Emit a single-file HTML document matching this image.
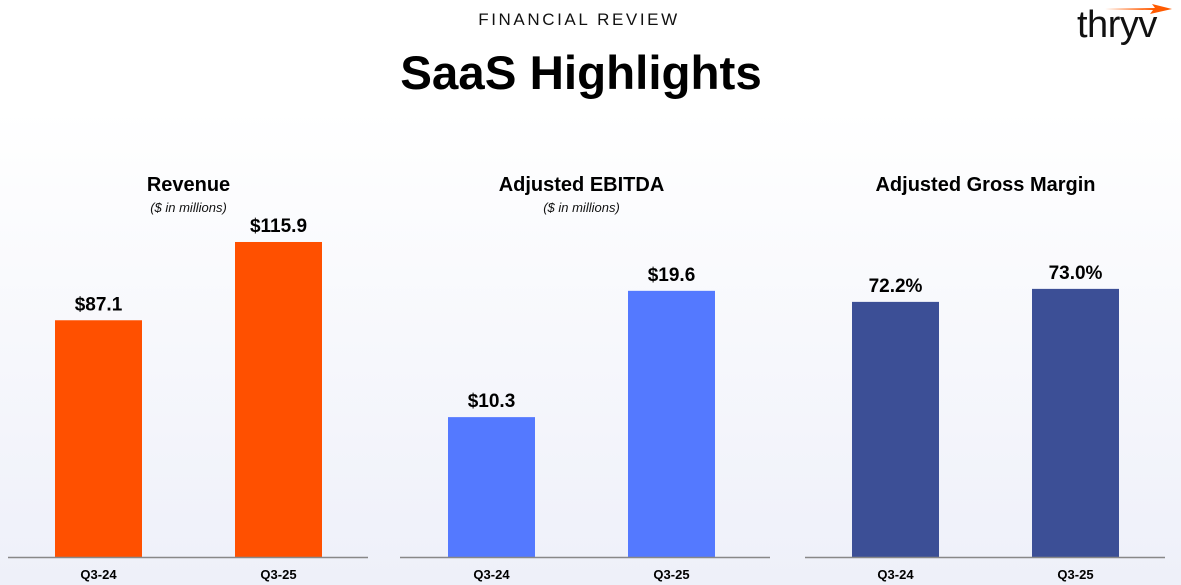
<!DOCTYPE html>
<html><head><meta charset="utf-8"><style>
body{margin:0;width:1181px;height:585px;overflow:hidden;font-family:"Liberation Sans",sans-serif;}
#bg{position:absolute;left:0;top:0;width:1181px;height:585px;background:linear-gradient(#ffffff 0px,#ffffff 110px,#eef0f9 585px);}
</style></head><body>
<div id="bg"></div>
<svg id="c" width="1181" height="585" style="position:absolute;left:0;top:0">
<text x="579" y="25" text-anchor="middle" font-size="17" letter-spacing="2.6" fill="#111">FINANCIAL REVIEW</text>
<text x="581" y="89" text-anchor="middle" font-size="47.5" font-weight="bold" fill="#000">SaaS Highlights</text>
<g>
<text x="1077" y="37" font-size="38" fill="#111" letter-spacing="-0.5">thryv</text>
<polygon points="1105,9 1155,8 1152,4 1172,9 1150,14 1153,10" fill="#ff5a00"/>
</g>
</svg>
<script>
const cats=["Q3-24","Q3-25"];
const revenue=[87.1,115.9];
const ebitda=[10.3,19.6];
const margin=[72.2,73.0];
const revLabels=["$87.1","$115.9"];
const ebLabels=["$10.3","$19.6"];
const gmLabels=["72.2%","73.0%"];
const svg=document.getElementById('c');
const NS="http://www.w3.org/2000/svg";
function mk(t,a,txt){const e=document.createElementNS(NS,t);for(const k in a)e.setAttribute(k,a[k]);if(txt!=null)e.textContent=txt;svg.appendChild(e);return e;}
const base=557;
const panels=[
 {title:"Revenue",sub:"($ in millions)",vals:revenue,labels:revLabels,color:"#ff5000",x0:8,x1:368,bx:[55,235],min:0,scale:2.718,name:"revenue"},
 {title:"Adjusted EBITDA",sub:"($ in millions)",vals:ebitda,labels:ebLabels,color:"#5479ff",x0:400,x1:770,bx:[448,628],min:0,scale:13.58,name:"ebitda"},
 {title:"Adjusted Gross Margin",sub:null,vals:margin,labels:gmLabels,color:"#3c4f96",x0:805,x1:1165,bx:[852,1032],min:56.5,scale:16.25,name:"gross-margin"}
];
panels.forEach(p=>{
 const cx=(p.bx[0]+p.bx[1]+87)/2;
 let e=mk('text',{x:cx,y:191,'text-anchor':'middle','font-size':20,'font-weight':'bold',fill:'#000'},p.title);
 
 
 if(p.sub){e=mk('text',{x:cx,y:212,'text-anchor':'middle','font-size':13,'font-style':'italic',fill:'#111'},p.sub);
 
 }
 p.vals.forEach((v,i)=>{
  const h=(v-p.min)*p.scale;
  const r=mk('rect',{x:p.bx[i],y:base-h,width:87,height:h,fill:p.color});
  
  
  const t=mk('text',{x:p.bx[i]+43.5,y:base-h-10,'text-anchor':'middle','font-size':19,'font-weight':'bold',fill:'#000'},p.labels[i]);
  
  
  const c=mk('text',{x:p.bx[i]+43.5,y:579,'text-anchor':'middle','font-size':13,'font-weight':'bold',fill:'#000'},cats[i]);
  
  
 });
 const l=mk('line',{x1:p.x0,x2:p.x1,y1:base+0.5,y2:base+0.5,stroke:'#888','stroke-width':1.5});
 
 
});
</script>
</body></html>
